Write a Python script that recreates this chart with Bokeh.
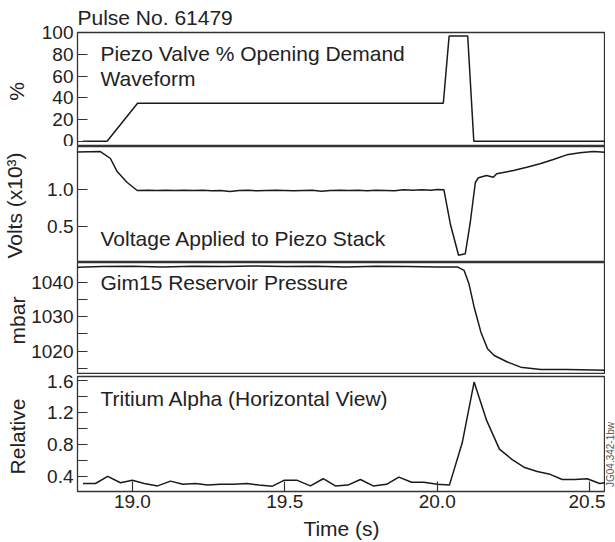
import math
from bokeh.plotting import figure
from bokeh.layouts import column, row
from bokeh.models import Range1d, FixedTicker, PrintfTickFormatter
from bokeh.core.properties import value
from bokeh.embed import file_html
from bokeh.resources import INLINE

# ---------------- data ----------------
title_text = "Pulse No. 61479"

valve_t = [18.838, 18.917, 19.017, 20.020, 20.039, 20.100, 20.120, 20.552]
valve_v = [0, 0, 35, 35, 97, 97, 0, 0]

volt_t = [18.820, 18.895, 18.928, 18.950, 18.983, 19.016, 19.05, 19.08, 19.11, 19.14,
          19.17, 19.20, 19.23, 19.26, 19.29, 19.32, 19.35, 19.38, 19.41, 19.44,
          19.47, 19.50, 19.53, 19.56, 19.59, 19.62, 19.65, 19.68, 19.71, 19.74,
          19.77, 19.80, 19.83, 19.86, 19.89, 19.92, 19.95, 19.98, 20.00, 20.022,
          20.043, 20.070, 20.092, 20.108, 20.125, 20.135, 20.162, 20.184, 20.195, 20.25,
          20.294, 20.337, 20.381, 20.425, 20.468, 20.512, 20.552]
volt_v = [1.52, 1.525, 1.43, 1.25, 1.10, 0.99, 0.995, 0.99, 0.992, 0.99,
          0.993, 0.99, 0.992, 0.988, 0.99, 0.975, 0.99, 0.992, 0.985, 0.99,
          0.995, 0.99, 0.985, 0.99, 0.993, 0.98, 0.99, 0.995, 0.99, 0.992,
          0.988, 0.995, 0.99, 0.985, 1.0, 0.995, 1.0, 0.995, 1.005, 1.0,
          0.53, 0.10, 0.12, 0.54, 1.10, 1.165, 1.196, 1.173, 1.22, 1.265,
          1.31, 1.357, 1.416, 1.48, 1.51, 1.526, 1.516]

press_t = [18.820, 18.90, 19.00, 19.10, 19.20, 19.30, 19.40, 19.50, 19.60, 19.70,
           19.80, 19.90, 20.00, 20.066, 20.088, 20.104, 20.121, 20.143, 20.165, 20.187,
           20.230, 20.274, 20.340, 20.427, 20.552]
press_v = [1044.5, 1044.7, 1044.8, 1044.6, 1044.8, 1044.7, 1044.9, 1044.7, 1044.8, 1044.6,
           1044.8, 1044.7, 1044.6, 1044.6, 1043.6, 1039.7, 1032.9, 1025.6, 1020.7, 1018.7,
           1016.8, 1015.3, 1014.6, 1014.6, 1014.4]

trit_t = [18.838, 18.879, 18.919, 18.961, 19.000, 19.039, 19.083, 19.125, 19.166, 19.207,
          19.247, 19.289, 19.332, 19.376, 19.415, 19.458, 19.497, 19.541, 19.584, 19.626,
          19.666, 19.707, 19.748, 19.790, 19.834, 19.874, 19.916, 19.956, 20.000, 20.040,
          20.082, 20.121, 20.162, 20.204, 20.246, 20.287, 20.328, 20.370, 20.410, 20.451,
          20.492, 20.533, 20.552]
trit_v = [0.31, 0.31, 0.40, 0.32, 0.35, 0.31, 0.28, 0.34, 0.30, 0.31,
          0.29, 0.30, 0.30, 0.31, 0.29, 0.275, 0.35, 0.35, 0.28, 0.37,
          0.28, 0.29, 0.36, 0.28, 0.30, 0.39, 0.325, 0.325, 0.30, 0.29,
          0.82, 1.58, 1.10, 0.74, 0.61, 0.51, 0.46, 0.425, 0.36, 0.36,
          0.37, 0.31, 0.32]

x_ticks = [19.0, 19.5, 20.0, 20.5]
y1_ticks = [0, 20, 40, 60, 80, 100]
y2_ticks = [0.5, 1.0]
y3_ticks = [1020, 1030, 1040]
y3_minor = [1015, 1025, 1035]
y4_ticks = [0.4, 0.8, 1.2, 1.6]
y4_minor = [0.6, 1.0, 1.4]

y_labels = ["%", "Volts (x10\u00b3)", "mbar", "Relative"]
panel_texts = [["Piezo Valve % Opening Demand", "Waveform"],
               ["Voltage Applied to Piezo Stack"],
               ["Gim15 Reservoir Pressure"],
               ["Tritium Alpha (Horizontal View)"]]
x_label = "Time (s)"
ref_code = "JG04.342-1bw"

# ---------------- styling / layout ----------------
FONT = "Liberation Sans"
TXT = "#222222"
LINE = "#1a1a1a"
FRAME = "#333333"
TOTAL_H = 542
STRIP_L = 28        # left strip holding the rotated axis titles
BORDER_L = 49       # room for tick labels
FRAME_W = 528
STRIP_R = 10
MAIN_W = BORDER_L + FRAME_W
SHIFT_EM = 8.5 / 21  # observed offset of the alphabetic baseline, in em

x_range = Range1d(18.82, 20.552)


def make_fig(height, top, bottom, yr, ticks, minor, fmt, xaxis):
    p = figure(width=MAIN_W, height=height, x_range=x_range, y_range=yr,
               toolbar_location=None, output_backend="svg",
               x_axis_location="below" if xaxis else None,
               min_border_left=BORDER_L, min_border_right=0,
               min_border_top=top, min_border_bottom=bottom,
               background_fill_color="white", border_fill_color="white")
    p.outline_line_color = FRAME
    p.outline_line_width = 1.3
    p.grid.grid_line_color = None
    ya = p.yaxis[0]
    ya.ticker = FixedTicker(ticks=ticks, minor_ticks=minor)
    ya.formatter = PrintfTickFormatter(format=fmt)
    ya.axis_line_color = None
    ya.major_tick_in = 10
    ya.major_tick_out = 0
    ya.minor_tick_in = 10
    ya.minor_tick_out = 0
    ya.major_tick_line_color = FRAME
    ya.minor_tick_line_color = FRAME
    ya.major_tick_line_width = 1.2
    ya.minor_tick_line_width = 1.2
    ya.major_label_text_font = FONT
    ya.major_label_text_font_size = "19px"
    ya.major_label_text_color = TXT
    ya.major_label_standoff = 4
    if xaxis:
        xa = p.xaxis[0]
        xa.ticker = FixedTicker(ticks=x_ticks, minor_ticks=[])
        xa.formatter = PrintfTickFormatter(format="%.1f")
        xa.axis_line_color = None
        xa.major_tick_in = 10
        xa.major_tick_out = 0
        xa.major_tick_line_color = FRAME
        xa.major_tick_line_width = 1.2
        xa.major_label_text_font = FONT
        xa.major_label_text_font_size = "19px"
        xa.major_label_text_color = TXT
        xa.major_label_standoff = 3
        xa.axis_label = x_label
        xa.axis_label_text_font = FONT
        xa.axis_label_text_font_size = "21px"
        xa.axis_label_text_font_style = "normal"
        xa.axis_label_text_color = TXT
        xa.axis_label_standoff = 6
    return p


def panel_text(p, fh, x, baseline_from_top, txt):
    # x, baseline in pixels relative to the frame's top-left, mapped via the ranges
    y_from_top = baseline_from_top - SHIFT_EM * 21
    xr = p.x_range
    yr = p.y_range
    xd = xr.start + (xr.end - xr.start) * x / FRAME_W
    yd = yr.end - (yr.end - yr.start) * y_from_top / fh
    p.text(x=[xd], y=[yd], text=[txt], text_font=value(FONT), text_font_size="21px",
           text_color=TXT, text_align="left", text_baseline="alphabetic")


# frame tops at 32, 146, 262, 376; panel 3 frame ends at 374 so that the
# top tick label of panel 4 has room in its 2px top border
p1 = make_fig(146, 32, 0, Range1d(-4.9, 100.3), y1_ticks, [], "%d", False)
p2 = make_fig(116, 0, 0, Range1d(0.0, 1.595), y2_ticks, [], "%.1f", False)
p3 = make_fig(112, 0, 0, Range1d(1013.15, 1045.9), y3_ticks, y3_minor, "%d", False)
p4 = make_fig(TOTAL_H - 146 - 116 - 112, 2, TOTAL_H - 491, Range1d(0.21, 1.65),
              y4_ticks, y4_minor, "%.1f", True)

p1.title.text = title_text
p1.title.align = "left"
p1.title.text_font = FONT
p1.title.text_font_size = "21px"
p1.title.text_font_style = "normal"
p1.title.text_color = TXT
p1.title.standoff = 7

p1.line(valve_t, valve_v, line_color=LINE, line_width=1.5)
p2.line(volt_t, volt_v, line_color=LINE, line_width=1.5)
p3.line(press_t, press_v, line_color=LINE, line_width=1.5)
p4.line(trit_t, trit_v, line_color=LINE, line_width=1.5)

panel_text(p1, 114, 23, 29.3, panel_texts[0][0])
panel_text(p1, 114, 23, 54.7, panel_texts[0][1])
panel_text(p2, 116, 23, 100, panel_texts[1][0])
panel_text(p3, 112, 23, 28.7, panel_texts[2][0])
panel_text(p4, 115, 23, 30, panel_texts[3][0])

# left strip: rotated axis titles (page coordinates, y measured from the bottom)
left = figure(width=STRIP_L, height=TOTAL_H, x_range=Range1d(0, STRIP_L),
              y_range=Range1d(0, TOTAL_H), toolbar_location=None, output_backend="svg",
              x_axis_location=None, y_axis_location=None,
              min_border=0, outline_line_color=None)
left.grid.grid_line_color = None
lab_base_x = [24, 22.5, 25, 25]
lab_x = [b - SHIFT_EM * 21 for b in lab_base_x]
lab_y = [TOTAL_H - 91, TOTAL_H - 205, TOTAL_H - 320, TOTAL_H - 436]
left.text(x=lab_x, y=lab_y, text=y_labels, angle=math.pi / 2,
          text_font=value(FONT), text_font_size="21px", text_color=TXT,
          text_align="center", text_baseline="alphabetic")

# right strip: figure reference code
right = figure(width=STRIP_R, height=TOTAL_H, x_range=Range1d(0, STRIP_R),
               y_range=Range1d(0, TOTAL_H), toolbar_location=None, output_backend="svg",
               x_axis_location=None, y_axis_location=None,
               min_border=0, outline_line_color=None)
right.grid.grid_line_color = None
right.text(x=[9.2 - SHIFT_EM * 10], y=[TOTAL_H - 454], text=[ref_code],
           angle=math.pi / 2, text_font=value(FONT), text_font_size="10px",
           text_color="#555555", text_align="center", text_baseline="alphabetic")

layout = row(left, column(p1, p2, p3, p4, spacing=0), right, spacing=0)

open("out.html", "w").write(file_html(layout, INLINE))
